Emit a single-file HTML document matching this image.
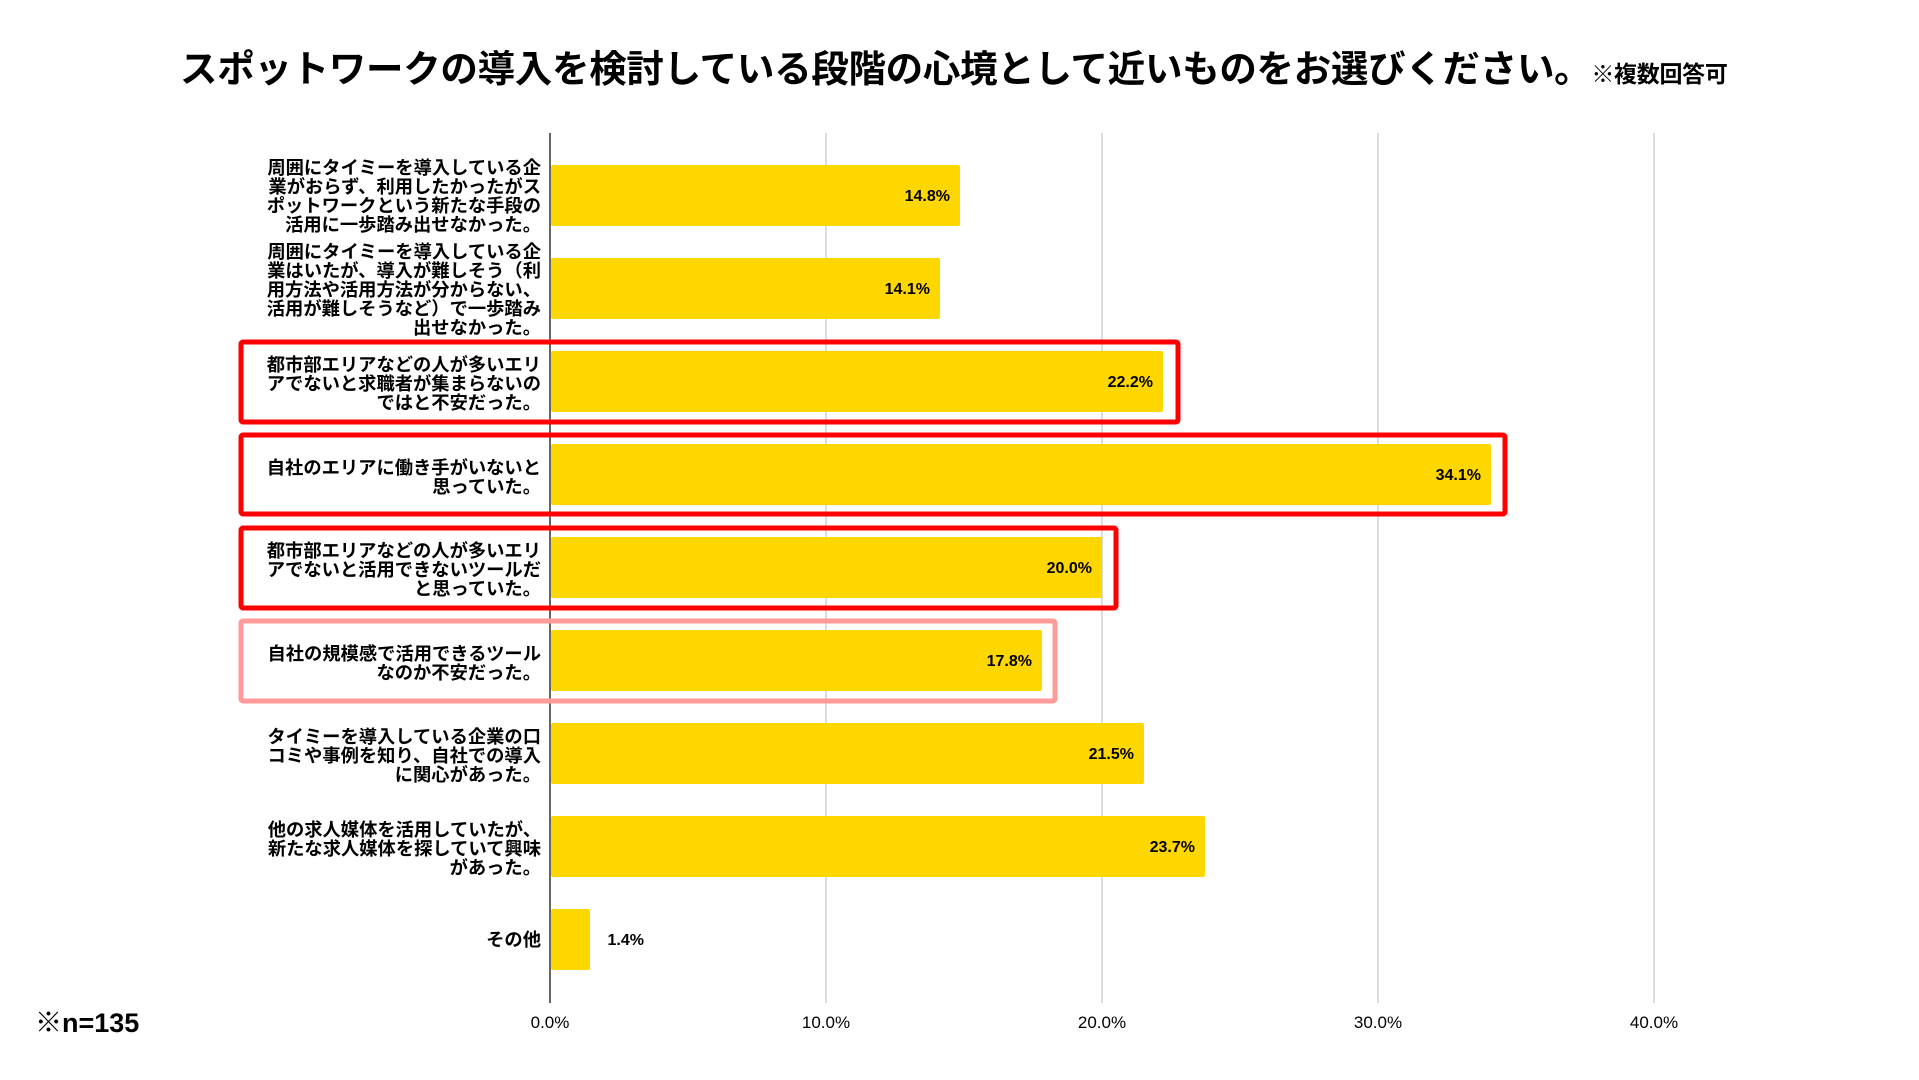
<!DOCTYPE html>
<html><head><meta charset="utf-8"><style>
html,body{margin:0;padding:0;background:#fff;}
svg{display:block;}
text{font-family:"Liberation Sans","Noto Sans CJK JP",sans-serif;font-weight:bold;fill:#000;}
</style></head><body>
<svg width="1919" height="1080" viewBox="0 0 1919 1080" xmlns="http://www.w3.org/2000/svg">
<rect width="1919" height="1080" fill="#fff"/>
<text x="180" y="82" font-size="37.5" font-family="Noto Sans CJK JP, sans-serif" letter-spacing="-0.3">スポットワークの導入を検討している段階の心境として近いものをお選びください。<tspan font-size="23">※複数回答可</tspan></text>
<g stroke="#d0d0d0" stroke-width="1.5">
<line x1="826" y1="133" x2="826" y2="1003"/>
<line x1="1102" y1="133" x2="1102" y2="1003"/>
<line x1="1378" y1="133" x2="1378" y2="1003"/>
<line x1="1654" y1="133" x2="1654" y2="1003"/>
</g>
<g fill="#FFD700">
<rect x="551" y="165" width="409" height="61" rx="2"/>
<rect x="551" y="258" width="389" height="61" rx="2"/>
<rect x="551" y="351" width="612" height="61" rx="2"/>
<rect x="551" y="444" width="940" height="61" rx="2"/>
<rect x="551" y="537" width="551" height="61" rx="2"/>
<rect x="551" y="630" width="491" height="61" rx="2"/>
<rect x="551" y="723" width="593" height="61" rx="2"/>
<rect x="551" y="816" width="654" height="61" rx="2"/>
<rect x="551" y="909" width="39" height="61" rx="2"/>
</g>
<line x1="550" y1="133" x2="550" y2="1003" stroke="#333" stroke-width="1.5"/>
<g fill="none" stroke-width="5">
<rect x="241" y="342" width="937" height="80" stroke="#ff0000" rx="2"/>
<rect x="241" y="435" width="1264" height="79" stroke="#ff0000" rx="2"/>
<rect x="241" y="528" width="875" height="80" stroke="#ff0000" rx="2"/>
<rect x="241" y="621" width="814" height="80" stroke="#ff9a9a" rx="2"/>
</g>
<g font-size="16" text-anchor="end">
<text x="950" y="201">14.8%</text>
<text x="930" y="294">14.1%</text>
<text x="1153" y="387">22.2%</text>
<text x="1481" y="480">34.1%</text>
<text x="1092" y="573">20.0%</text>
<text x="1032" y="666">17.8%</text>
<text x="1134" y="759">21.5%</text>
<text x="1195" y="852">23.7%</text>
<text x="644" y="945">1.4%</text>
</g>
<g font-size="18.3" text-anchor="end" font-family="Noto Sans CJK JP, sans-serif">
<text x="541" y="174">周囲にタイミーを導入している企</text>
<text x="541" y="193">業がおらず、利用したかったがス</text>
<text x="541" y="212">ポットワークという新たな手段の</text>
<text x="541" y="231">活用に一歩踏み出せなかった。</text>
<text x="541" y="258">周囲にタイミーを導入している企</text>
<text x="541" y="277">業はいたが、導入が難しそう（利</text>
<text x="541" y="296">用方法や活用方法が分からない、</text>
<text x="541" y="315">活用が難しそうなど）で一歩踏み</text>
<text x="541" y="334">出せなかった。</text>
<text x="541" y="371">都市部エリアなどの人が多いエリ</text>
<text x="541" y="390">アでないと求職者が集まらないの</text>
<text x="541" y="409">ではと不安だった。</text>
<text x="541" y="474">自社のエリアに働き手がいないと</text>
<text x="541" y="493">思っていた。</text>
<text x="541" y="557">都市部エリアなどの人が多いエリ</text>
<text x="541" y="576">アでないと活用できないツールだ</text>
<text x="541" y="595">と思っていた。</text>
<text x="541" y="660">自社の規模感で活用できるツール</text>
<text x="541" y="679">なのか不安だった。</text>
<text x="541" y="743">タイミーを導入している企業の口</text>
<text x="541" y="762">コミや事例を知り、自社での導入</text>
<text x="541" y="781">に関心があった。</text>
<text x="541" y="836">他の求人媒体を活用していたが、</text>
<text x="541" y="855">新たな求人媒体を探していて興味</text>
<text x="541" y="874">があった。</text>
<text x="541" y="946">その他</text>
</g>
<g font-size="17" text-anchor="middle">
<text x="550" y="1028" style="font-weight:normal">0.0%</text>
<text x="826" y="1028" style="font-weight:normal">10.0%</text>
<text x="1102" y="1028" style="font-weight:normal">20.0%</text>
<text x="1378" y="1028" style="font-weight:normal">30.0%</text>
<text x="1654" y="1028" style="font-weight:normal">40.0%</text>
</g>
<text x="35" y="1032" font-size="27">※n=135</text>
</svg>
</body></html>
